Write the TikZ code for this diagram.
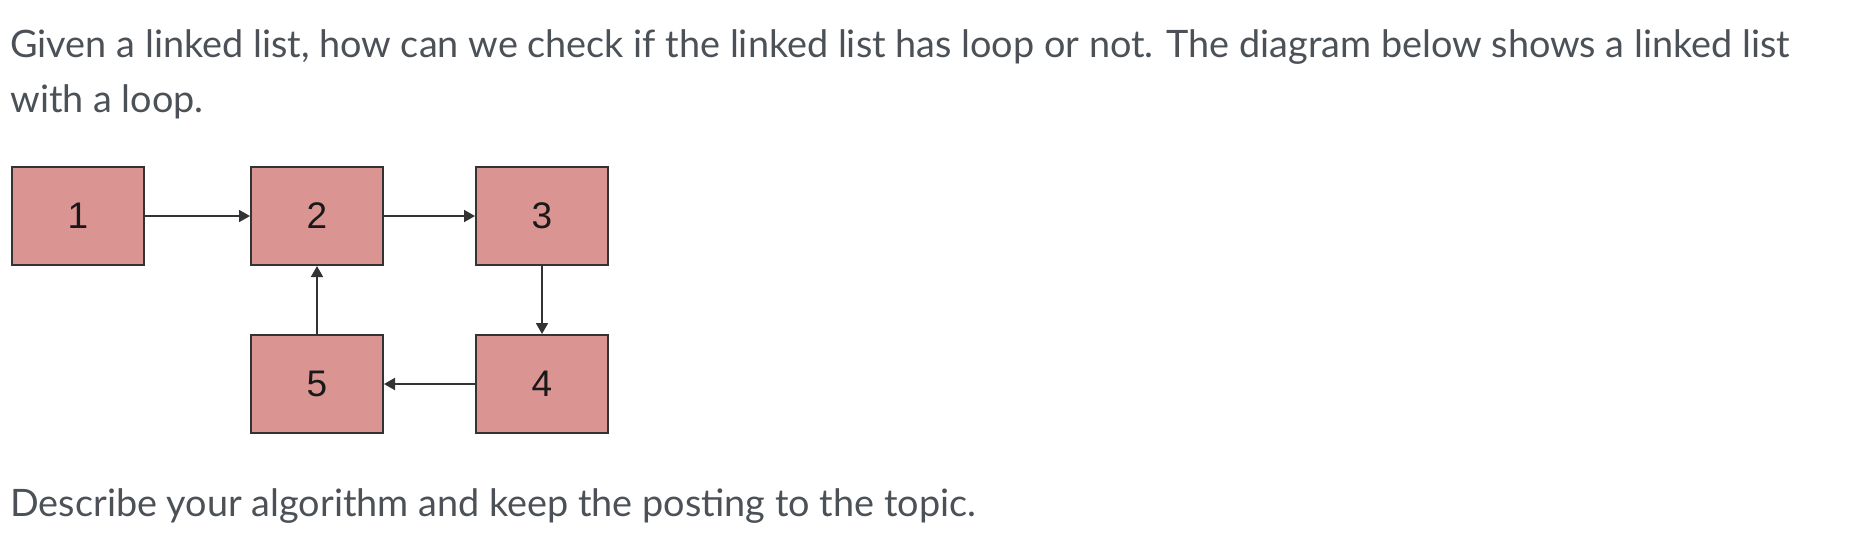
\documentclass[tikz,border=0pt]{standalone}
\usepackage{fontspec}
\setmainfont{Lato}
\newfontfamily\arialfont{Liberation Sans}
\usetikzlibrary{arrows.meta}
\definecolor{txtgray}{HTML}{4B5156}
\definecolor{boxfill}{RGB}{218,149,147}
\definecolor{boxline}{HTML}{333333}
\begin{document}
\begin{tikzpicture}[x=0.5pt,y=-0.5pt,
  listbox/.style={draw=boxline, line width=1.2pt, fill=boxfill, minimum width=65.8pt, minimum height=48.8pt, inner sep=0pt, font=\arialfont\fontsize{18.5pt}{18.5pt}\selectfont, text=black!90},
  link/.style={draw=black!80, line width=0.9pt, -{Triangle[length=5.5pt,width=6pt]}},
  para/.style={anchor=base west, inner sep=0pt, text=txtgray, font=\fontsize{18.9pt}{22pt}\selectfont}]
\useasboundingbox (0,0) rectangle (1866,538);
\node[para] (t1) at (10,57) {Given a linked list, how can we check if the linked list has loop or not. The diagram below shows a linked list};
\node[para] (t2) at (10,112) {with a loop.};
\node[para] (t3) at (10,516) {Describe your algorithm and keep the posting to the topic.};
\node[listbox] (b1) at (78,216) {1};
\node[listbox] (b2) at (317,216) {2};
\node[listbox] (b3) at (542,216) {3};
\node[listbox] (b4) at (542,384) {4};
\node[listbox] (b5) at (317,384) {5};
\draw[link] (b1.east) -- (b2.west);
\draw[link] (b2.east) -- (b3.west);
\draw[link] (b3.south) -- (b4.north);
\draw[link] (b4.west) -- (b5.east);
\draw[link] (b5.north) -- (b2.south);
\end{tikzpicture}
\end{document}
